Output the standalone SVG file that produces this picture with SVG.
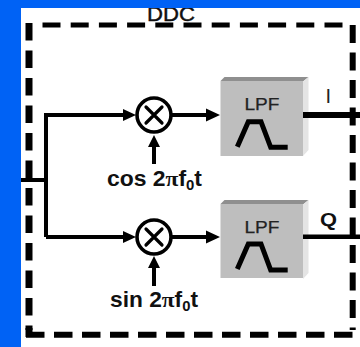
<svg xmlns="http://www.w3.org/2000/svg" width="360" height="347" viewBox="0 0 360 347">
<style>
text{font-family:"Liberation Sans",Arial,sans-serif;fill:#111}
.b{font-weight:bold;font-size:21.500px}
.lpf{font-size:17px;fill:#222;stroke:#222;stroke-width:.25}
.sub{font-size:14px}
.pi{font-family:"Liberation Serif",serif;font-size:22px}
.dash{fill:none;stroke:#000}
.w{fill:none;stroke:#000;stroke-width:4}
.h{fill:#000}
.x{fill:#fff;stroke:#000;stroke-width:3.6}
.m{fill:none;stroke:#000;stroke-width:3.2;stroke-linecap:round}
.f{fill:#bebebe}.t{fill:#8f8f8f}.r{fill:#e4e4e4}
.c{fill:none;stroke:#000;stroke-width:5}
</style>
<rect width="360" height="347" fill="#fff"/>
<g id="ddc">
<text x="147" y="21" textLength="48" lengthAdjust="spacingAndGlyphs" style="font-size:20px;stroke:#111;stroke-width:.4">DDC</text>
</g>
<rect width="360" height="8" fill="#0062f5"/>
<rect width="21" height="347" fill="#0062f5"/>
<g id="frame">
<path class="dash" stroke-width="5" stroke-dasharray="18 10.2" d="M42.500 25H345"/>
<path class="dash" stroke-width="6" stroke-dasharray="18 9.500" d="M352.700 25V330"/>
<path class="dash" stroke-width="7" stroke-dasharray="17.500 10" d="M29 23V330"/>
<path class="dash" stroke-width="6" stroke-dasharray="18.500 9.500" d="M26 334.700H356"/>
<path class="dash" stroke-width="7" d="M29 328V337"/>
</g>
<g id="mixer-cos"><circle class="x" cx="154" cy="115" r="17"/><path class="m" d="M146 107L162 123M162 107L146 123"/></g>
<g id="mixer-sin"><circle class="x" cx="154" cy="237" r="17"/><path class="m" d="M146 229L162 245M162 229L146 245"/></g>
<g id="lpf-i">
<path class="t" d="M220.500 81l4-4h84l-5.500 4.500z"/><path class="r" d="M303 81.500l5.500-4.500v73l-5.500 6z"/>
<rect class="f" x="220.500" y="81" width="82.500" height="75"/>
<text class="lpf" x="244.500" y="110" textLength="35" lengthAdjust="spacingAndGlyphs">LPF</text>
<path class="c" d="M237.300 146.700L248.300 121.700H261L270.700 147.300H287.700"/>
</g>
<g id="lpf-q">
<path class="t" d="M220.500 204l4-4h84l-5.500 4.500z"/><path class="r" d="M303 204.500l5.500-4.500v73l-5.500 6z"/>
<rect class="f" x="220.500" y="204" width="82.500" height="74"/>
<text class="lpf" x="244.500" y="233" textLength="35" lengthAdjust="spacingAndGlyphs">LPF</text>
<path class="c" d="M237.300 269L248.300 244H261L270.700 270H287.700"/>
</g>
<g id="connectors">
<path class="w" d="M21 180H46M46 237V115H125M46 237H125"/>
<path class="h" d="M136 115l-13-6v12zM136 237l-13-6v12z"/>
<path class="w" d="M154 164V145M154 286V265"/>
<path class="h" d="M154 135l-6 12h12zM154 256l-6 12h12z"/>
<path class="w" d="M172 115H208M172 237H208"/>
<path class="h" d="M220 115l-14-6.500v13zM220 237l-14-6.500v13z"/>
<path fill="none" stroke="#000" stroke-width="6" d="M303 115H360"/>
<path fill="none" stroke="#000" stroke-width="4.500" d="M303 236.700H360"/>
</g>
<g id="labels">
<text x="325.500" y="103" style="font-size:20px;fill:#222">I</text>
<text class="b" x="320" y="226" textLength="17" lengthAdjust="spacingAndGlyphs" style="font-size:19px">Q</text>
<text class="b" x="107" y="186" textLength="95" lengthAdjust="spacingAndGlyphs">cos 2<tspan class="pi">π</tspan>f<tspan class="sub" dy="4">0</tspan><tspan dy="-4">t</tspan></text>
<text class="b" x="110" y="307" textLength="88" lengthAdjust="spacingAndGlyphs">sin 2<tspan class="pi">π</tspan>f<tspan class="sub" dy="4">0</tspan><tspan dy="-4">t</tspan></text>
</g>
</svg>
